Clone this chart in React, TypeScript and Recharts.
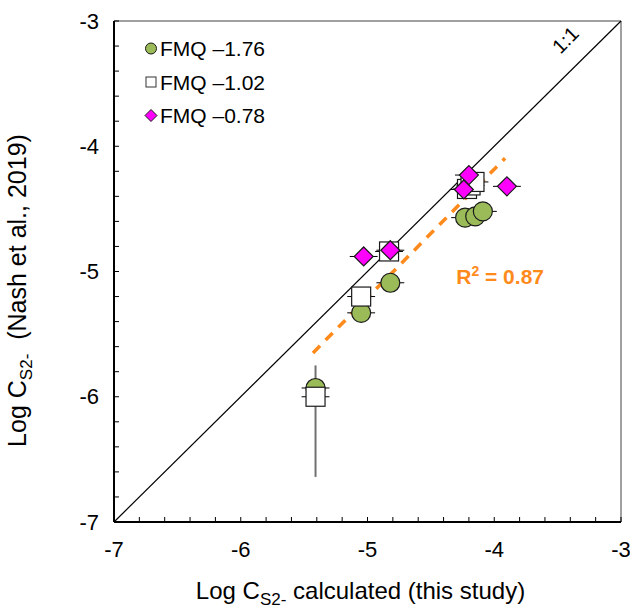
import React from 'react';
import { ScatterChart, Scatter, XAxis, YAxis, ReferenceLine, ErrorBar } from 'recharts';

const FONT = '"Liberation Sans", Arial, Helvetica, sans-serif';

// ---- data ----
const axisTicks = [-7, -6.8, -6.6, -6.4, -6.2, -6, -5.8, -5.6, -5.4, -5.2, -5, -4.8, -4.6, -4.4, -4.2, -4, -3.8, -3.6, -3.4, -3.2, -3];
const majorTickLabels = ['-7', '-6', '-5', '-4', '-3'];

const seriesNames = ['FMQ \u20131.76', 'FMQ \u20131.02', 'FMQ \u20130.78'];

const circlesX = [-5.41, -5.05, -4.82, -4.23, -4.15, -4.09];
const circlesY = [-5.93, -5.33, -5.09, -4.57, -4.56, -4.52];
const circlesXErr = [0.11, 0.11, 0.11, 0.11, 0.11, 0.11];

const squaresX = [-5.41, -5.05, -4.83, -4.215, -4.187, -4.156];
const squaresY = [-6.0, -5.2, -4.84, -4.341, -4.313, -4.285];
const squaresXErr = [0.11, 0.11, 0.11, 0.11, 0.11, 0.11];
const squaresYErr: (number | [number, number])[] = [[0.64, 0.25], 0, 0, 0, 0, 0];

const diamondsX = [-5.03, -4.82, -4.24, -4.2, -3.9];
const diamondsY = [-4.88, -4.83, -4.345, -4.23, -4.32];
const diamondsXErr = [0.11, 0.11, 0.11, 0.11, 0.11];

const oneToOneX = [-7, -3];
const oneToOneY = [-7, -3];

const fitX = [-5.43, -3.915];
const fitY = [-5.65, -4.096];

const ratioLabel = { x: -3.4, y: -3.19, text: '1:1' };
const r2Label = { x: -4.3, y: -5.04, base: 'R', sup: '2', rest: ' = 0.87' };

// ---- build ----
const circles = circlesX.map((x, i) => ({ x, y: circlesY[i], ex: circlesXErr[i] }));
const squares = squaresX.map((x, i) => ({ x, y: squaresY[i], ex: squaresXErr[i], ey: squaresYErr[i] }));
const diamonds = diamondsX.map((x, i) => ({ x, y: diamondsY[i], ex: diamondsXErr[i] }));

const GREEN = '#9BBB59';
const MAGENTA = '#FF00FF';
const ORANGE = '#FF8A1C';

const TICK_FS = 22;
const TITLE_FS = 24;

const isMajor = (v: number) => Math.abs(v - Math.round(v)) < 1e-6;
const labelFor = (v: number) => majorTickLabels[Math.round(v) + 7];

const Y_MARGIN = 15;
const X_MARGIN = 10;

const YTick = (props: any) => {
  const { x, y, payload } = props;
  const v = payload.value;
  const ax = x + Y_MARGIN;
  return (
    <g>
      <line x1={ax} x2={ax + 5} y1={y} y2={y} stroke="#000" strokeWidth={1} />
      {isMajor(v) && (
        <text x={x} y={y} dy={7.5} textAnchor="end" fontSize={TICK_FS} fontFamily={FONT} fill="#000">
          {labelFor(v)}
        </text>
      )}
    </g>
  );
};

const XTick = (props: any) => {
  const { x, y, payload } = props;
  const v = payload.value;
  const ay = y - X_MARGIN;
  return (
    <g>
      <line x1={x} x2={x} y1={ay} y2={ay - 5} stroke="#000" strokeWidth={1} />
      {isMajor(v) && (
        <text x={x} y={ay + 35} textAnchor="middle" fontSize={TICK_FS} fontFamily={FONT} fill="#000">
          {labelFor(v)}
        </text>
      )}
    </g>
  );
};

const CircleShape = (p: any) => (
  <circle cx={p.cx} cy={p.cy} r={9.5} fill={GREEN} stroke="#1a1a1a" strokeWidth={1.2} />
);
const SquareShape = (p: any) => (
  <rect x={p.cx - 9.5} y={p.cy - 9.5} width={19} height={19} fill="#fff" stroke="#1a1a1a" strokeWidth={1.2} />
);
const DiamondShape = (p: any) => (
  <polygon
    points={`${p.cx},${p.cy - 9.5} ${p.cx + 9.5},${p.cy} ${p.cx},${p.cy + 9.5} ${p.cx - 9.5},${p.cy}`}
    fill={MAGENTA}
    stroke="#1a1a1a"
    strokeWidth={1.2}
  />
);

const RatioText = (p: any) => (
  <text
    x={p.cx}
    y={p.cy}
    textAnchor="middle"
    fontSize={20}
    fontFamily={FONT}
    fill="#000"
    transform={`rotate(-45 ${p.cx} ${p.cy})`}
  >
    {ratioLabel.text}
  </text>
);

const R2Text = (p: any) => (
  <text x={p.cx} y={p.cy + 7.5} fontSize={21} fontWeight="bold" fontFamily={FONT} fill={ORANGE}>
    {r2Label.base}
    <tspan dy={-8} fontSize={14}>{r2Label.sup}</tspan>
    <tspan dy={8}>{r2Label.rest}</tspan>
  </text>
);

const XTitle = (props: any) => {
  const vb = props.viewBox;
  return (
    <text x={vb.x + vb.width / 2 - 7} y={vb.y + 77} textAnchor="middle" fontSize={TITLE_FS} fontFamily={FONT} fill="#000">
      Log C
      <tspan dy={6} fontSize={17}>S2-</tspan>
      <tspan dy={-6}> calculated (this study)</tspan>
    </text>
  );
};

const YTitle = (props: any) => {
  const vb = props.viewBox;
  const cx = vb.x + vb.width - 88;
  const cy = vb.y + vb.height / 2 + 19;
  return (
    <text x={cx} y={cy} textAnchor="middle" fontSize={25} fontFamily={FONT} fill="#000" transform={`rotate(-90 ${cx} ${cy})`}>
      Log C
      <tspan dy={6} fontSize={17}>S2-</tspan>
      <tspan dy={-6}>{'\u00a0 (Nash et al., 2019)'}</tspan>
    </text>
  );
};

const Legend = () => {
  const rows = [48.5, 82, 115.5];
  const mx = 151;
  return (
    <svg width={630} height={608} style={{ position: 'absolute', left: 0, top: 0, pointerEvents: 'none' }}>
      <circle cx={mx} cy={rows[0]} r={5.5} fill={GREEN} stroke="#1a1a1a" strokeWidth={1} />
      <rect x={mx - 5} y={rows[1] - 5} width={10} height={10} fill="#fff" stroke="#333" strokeWidth={1} />
      <polygon
        points={`${mx},${rows[2] - 6} ${mx + 6},${rows[2]} ${mx},${rows[2] + 6} ${mx - 6},${rows[2]}`}
        fill={MAGENTA}
        stroke="#1a1a1a"
        strokeWidth={1}
      />
      {seriesNames.map((n, i) => (
        <text key={n} x={160} y={rows[i] + 7.5} fontSize={21} fontFamily={FONT} fill="#000">
          {n}
        </text>
      ))}
    </svg>
  );
};

export default function App() {
  return (
    <div style={{ position: 'absolute', left: 0, top: 0, width: 630, height: 608, background: '#fff', fontFamily: FONT }}>
      <ScatterChart width={630} height={608} margin={{ top: 21, right: 9, bottom: 26, left: 34 }}>
        <XAxis
          type="number"
          dataKey="x"
          domain={[-7, -3]}
          ticks={axisTicks}
          interval={0}
          allowDataOverflow
          height={60}
          tickSize={0}
          tickMargin={X_MARGIN}
          tickLine={false}
          tick={<XTick />}
          axisLine={{ stroke: '#000', strokeWidth: 2 }}
          label={XTitle}
        />
        <YAxis
          type="number"
          dataKey="y"
          domain={[-7, -3]}
          ticks={axisTicks}
          interval={0}
          allowDataOverflow
          width={80}
          tickSize={0}
          tickMargin={Y_MARGIN}
          tickLine={false}
          tick={<YTick />}
          axisLine={{ stroke: '#000', strokeWidth: 2 }}
          label={YTitle}
        />
        <ReferenceLine y={-3} stroke="#808080" strokeWidth={1.5} />
        <ReferenceLine x={-3} stroke="#808080" strokeWidth={1.5} />
        <ReferenceLine
          segment={[{ x: oneToOneX[0], y: oneToOneY[0] }, { x: oneToOneX[1], y: oneToOneY[1] }]}
          stroke="#000"
          strokeWidth={1.2}
        />
        <ReferenceLine
          segment={[{ x: fitX[0], y: fitY[0] }, { x: fitX[1], y: fitY[1] }]}
          stroke={ORANGE}
          strokeWidth={3.5}
          strokeDasharray="10 8"
        />
        <Scatter name={seriesNames[0]} data={circles} shape={CircleShape} isAnimationActive={false}>
          <ErrorBar dataKey="ex" direction="x" width={0} stroke="#000" strokeWidth={1} />
        </Scatter>
        <Scatter name={seriesNames[1]} data={squares} shape={SquareShape} isAnimationActive={false}>
          <ErrorBar dataKey="ex" direction="x" width={0} stroke="#000" strokeWidth={1} />
          <ErrorBar dataKey="ey" direction="y" width={0} stroke="#707070" strokeWidth={2} />
        </Scatter>
        <Scatter name={seriesNames[2]} data={diamonds} shape={DiamondShape} isAnimationActive={false}>
          <ErrorBar dataKey="ex" direction="x" width={0} stroke="#000" strokeWidth={1} />
        </Scatter>
        <Scatter data={[ratioLabel]} shape={RatioText} isAnimationActive={false} />
        <Scatter data={[r2Label]} shape={R2Text} isAnimationActive={false} />
      </ScatterChart>
      <Legend />
    </div>
  );
}
